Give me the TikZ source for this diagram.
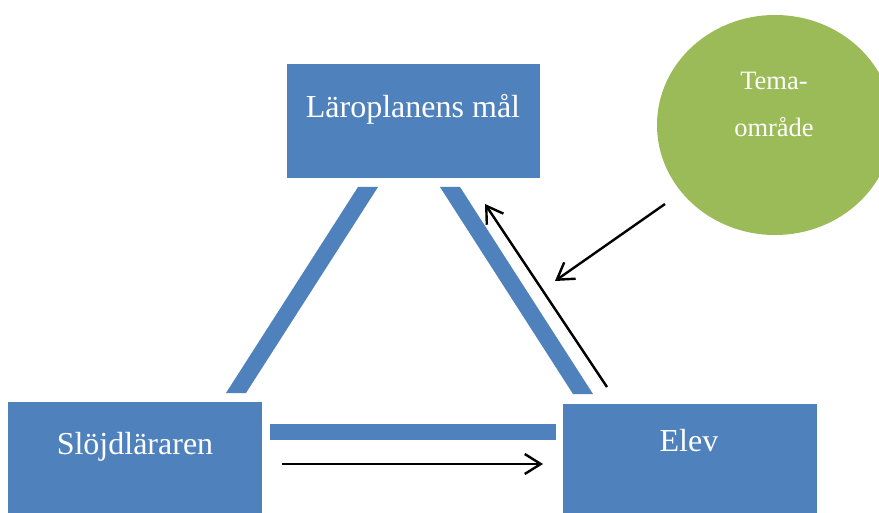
\documentclass[tikz,border=0pt]{standalone}
\usepackage{fontspec}
\setmainfont{Liberation Serif}
\usetikzlibrary{arrows.meta,shapes.geometric}
\definecolor{boxblue}{HTML}{4F81BD}
\definecolor{topicgreen}{HTML}{9BBB59}
\tikzset{
  box/.style={fill=boxblue, draw=none, inner sep=0pt, anchor=north west},
  boxtext/.style={text=white, font=\fontsize{32}{38}\selectfont, anchor=base, inner sep=0pt},
  topictext/.style={text=white, font=\fontsize{26.5}{31}\selectfont, anchor=base, inner sep=0pt},
  bar/.style={fill=boxblue, draw=none},
  arr/.style={draw=black, line width=2.4pt, -{Straight Barb[length=16pt,width=20pt,line width=2.4pt]}}
}
\begin{document}
\begin{tikzpicture}[x=1pt,y=-1pt]
  \useasboundingbox (0,0) rectangle (879,513);
  % topic area
  \node[ellipse, fill=topicgreen, minimum width=236, minimum height=220, inner sep=0pt] (topic) at (775,125) {};
  \node[topictext] (t1) at (774,90) {Tema-};
  \node[topictext] (t2) at (774,137) {område};
  % the three boxes
  \node[box, minimum width=253, minimum height=114] (goal) at (287,64) {};
  \node[boxtext] (goaltext) at (413,118) {Läroplanens mål};
  \node[box, minimum width=254, minimum height=112] (teacher) at (8,402) {};
  \node[boxtext] (teachertext) at (135,454) {Slöjdläraren};
  \node[box, minimum width=254, minimum height=110] (pupil) at (563,404) {};
  \node[boxtext] (pupiltext) at (689,451) {Elev};
  % links between the boxes
  \fill[bar] (358,187) -- (378,187) -- (246,393) -- (226,393) -- cycle;
  \fill[bar] (440,187) -- (460,187) -- (593,394) -- (573,394) -- cycle;
  \fill[bar] (270,424) rectangle (556,440);
  % arrows
  \coordinate (h1) at (282,464);
  \coordinate (h2) at (543,464);
  \coordinate (d1) at (607,387);
  \coordinate (d2) at (485,204);
  \coordinate (c1) at (665,204);
  \coordinate (c2) at (555,281);
  \draw[arr] (h1) -- (h2);
  \draw[arr] (d1) -- (d2);
  \draw[arr] (c1) -- (c2);
\end{tikzpicture}
\end{document}
